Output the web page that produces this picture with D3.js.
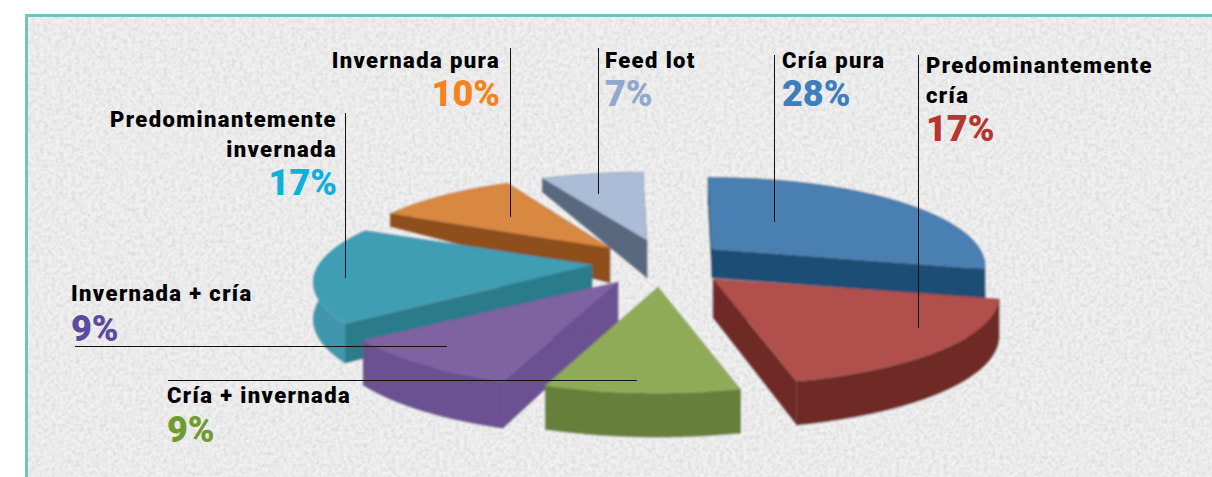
<!DOCTYPE html>
<html lang="es">
<head>
<meta charset="utf-8">
<title>Tipos de establecimiento</title>
<script src="https://d3js.org/d3.v7.min.js"></script>
<style>
    html, body { margin: 0; padding: 0; background: #fff; overflow: hidden; }
    svg { display: block; }
    .name { font: 900 22px Roboto, sans-serif; letter-spacing: 1.4px; fill: #000; }
    .pct { font: 900 36px Roboto, sans-serif; }
    .leader { stroke: #111; stroke-width: 1; fill: none; }
</style>
</head>
<body>
<svg width="1212" height="477"></svg>
<script>
// Data, clockwise from the top
var categories = ["Cría pura", "Predominantemente cría", "Cría + invernada", "Invernada + cría", "Predominantemente invernada", "Invernada pura", "Feed lot"];
var shares = [28, 17, 9, 9, 17, 10, 7];

// Colours
var topColors = ["#4a7fb1", "#b0504c", "#8fab58", "#7f62a1", "#3f9eb4", "#d8883f", "#aabcd6"];
var wallColors = ["#1f4e74", "#6f2a28", "#667f3a", "#6c5192", "#2b7c8b", "#8f4f1a", "#59697f"];
var rimColors = ["#1f4e74", "#6f2a28", "#667f3a", "#6c5192", "#3f97ad", "#8f4f1a", "#59697f"];
var labelColors = ["#3d7ebf", "#b5362f", "#6f9b2f", "#5b4a9e", "#0eb0dc", "#f58220", "#8fa8cc"];

// How each slice sits in the exploded pie
var offsetX = [57, 58, 3, -37, -63, -45, -8];
var offsetY = [-13, 17, 25, 20, 3, -14, -22];
var radiusX = [0.94, 0.985, 0.97, 0.99, 0.96, 0.93, 0.95];
var radiusY = [1, 1, 1, 1, 1, 1, 0.95];
var apexDepth = [29, 39, 39, 40, 36, 35, 38];
var depthSlope = [1, 5, 5, 8, 6, 50, 27];

var svg = d3.select("svg");
var width = 1212, height = 477;
var cx = 655, cy = 262, radius = 285, tilt = 0.3, persp = 0.195;

// Paper texture
var defs = svg.append("defs");
var paper = defs.append("filter").attr("id", "paper")
    .attr("x", 0).attr("y", 0).attr("width", "100%").attr("height", "100%");
paper.append("feTurbulence").attr("type", "fractalNoise").attr("baseFrequency", 0.25)
    .attr("numOctaves", 2).attr("seed", 4).attr("result", "n");
paper.append("feColorMatrix").attr("in", "n").attr("type", "matrix")
    .attr("values", "0 0 0 0 0.5  0 0 0 0 0.5  0 0 0 0 0.5  0.8 0 0 0 -0.28").attr("result", "spots");
paper.append("feMerge").call(function(m) {
    m.append("feMergeNode").attr("in", "SourceGraphic");
    m.append("feMergeNode").attr("in", "spots");
});
var soft = defs.append("filter").attr("id", "soft")
    .attr("x", "-5%").attr("y", "-5%").attr("width", "110%").attr("height", "110%");
soft.append("feGaussianBlur").attr("stdDeviation", 0.8).attr("result", "b");
soft.append("feDropShadow").attr("in", "b").attr("dx", 0).attr("dy", 0)
    .attr("stdDeviation", 2.5).attr("flood-color", "#fff").attr("flood-opacity", 0.45);

svg.append("rect").attr("x", 26.5).attr("y", 15.5).attr("width", width).attr("height", height)
    .attr("fill", "#f0f0f0").attr("filter", "url(#paper)");
svg.append("rect").attr("x", 25).attr("y", 14).attr("width", width).attr("height", 3).attr("fill", "#74c3c3");
svg.append("rect").attr("x", 25).attr("y", 14).attr("width", 3).attr("height", height).attr("fill", "#74c3c3");

// Pie layout and projection
var pie = d3.pie().sort(null).startAngle(-1 * Math.PI / 180).endAngle(359 * Math.PI / 180);
var arcs = pie(shares);
var line = d3.line();

function project(i, a, r) {
    var u = Math.sin(a) * r, v = -Math.cos(a) * r;
    var p = 1 / (1 - persp * v);
    return {
        x: cx + offsetX[i] + radius * radiusX[i] * u * p,
        y: cy + offsetY[i] + radius * tilt * radiusY[i] * v * p,
        d: Math.max(12, apexDepth[i] + depthSlope[i] * v)
    };
}
function down(q) { return [q.x, q.y + q.d]; }
function up(q) { return [q.x, q.y]; }

function arcPoints(i, d) {
    return d3.range(0, 61).map(function(k) {
        return project(i, d.startAngle + (d.endAngle - d.startAngle) * k / 60, 1);
    });
}

// Back slices first
var paintOrder = [6, 5, 0, 4, 3, 1, 2];
var pieG = svg.append("g").attr("filter", "url(#soft)");

paintOrder.forEach(function(i) {
    var d = arcs[i];
    var g = pieG.append("g").attr("class", "slice").datum(categories[i]);
    var pts = arcPoints(i, d);
    var apex = project(i, 0, 0);
    var first = pts[0], last = pts[pts.length - 1];

    // radial walls
    [first, last].forEach(function(q) {
        g.append("path")
            .attr("d", line([up(apex), up(q), down(q), down(apex)]) + "Z")
            .attr("fill", wallColors[i]).attr("stroke", wallColors[i]).attr("stroke-width", 0.6);
    });
    // rim
    g.append("path")
        .attr("d", line(pts.map(up).concat(pts.slice().reverse().map(down))) + "Z")
        .attr("fill", rimColors[i]).attr("stroke", rimColors[i]).attr("stroke-width", 0.6);
    // top face
    g.append("path")
        .attr("d", line([up(apex)].concat(pts.map(up))) + "Z")
        .attr("fill", topColors[i]);
});

// Leader lines
var leaders = [
    [[510.5, 48], [510.5, 217]],
    [[598.5, 48], [598.5, 194]],
    [[774.5, 55], [774.5, 222]],
    [[918.5, 55], [918.5, 328]],
    [[345.5, 113], [345.5, 278]],
    [[75, 346.5], [447, 346.5]],
    [[168, 380.5], [637, 380.5]]
];
svg.selectAll(".leader").data(leaders).enter().append("path")
    .attr("class", "leader")
    .attr("d", function(d) { return line(d); });

// Labels
var labels = [
    { i: 0, x: 782, anchor: "start", lines: ["Cría pura"], y: [68], py: 106 },
    { i: 1, x: 926, anchor: "start", lines: ["Predominantemente", "cría"], y: [73, 103], py: 141 },
    { i: 2, x: 167, anchor: "start", lines: ["Cría + invernada"], y: [403], py: 442 },
    { i: 3, x: 71, anchor: "start", lines: ["Invernada + cría"], y: [301], py: 341 },
    { i: 4, x: 337, anchor: "end", lines: ["Predominantemente", "invernada"], y: [127, 157], py: 195 },
    { i: 5, x: 500, anchor: "end", lines: ["Invernada pura"], y: [68], py: 106 },
    { i: 6, x: 605, anchor: "start", lines: ["Feed lot"], y: [68], py: 106 }
];
labels.forEach(function(l) {
    l.lines.forEach(function(t, k) {
        svg.append("text").attr("class", "name").attr("x", l.x).attr("y", l.y[k])
            .attr("text-anchor", l.anchor).text(t);
    });
    svg.append("text").attr("class", "pct").attr("x", l.x).attr("y", l.py)
        .attr("text-anchor", l.anchor).attr("fill", labelColors[l.i])
        .text(shares[l.i] + "%");
});
</script>
</body>
</html>
